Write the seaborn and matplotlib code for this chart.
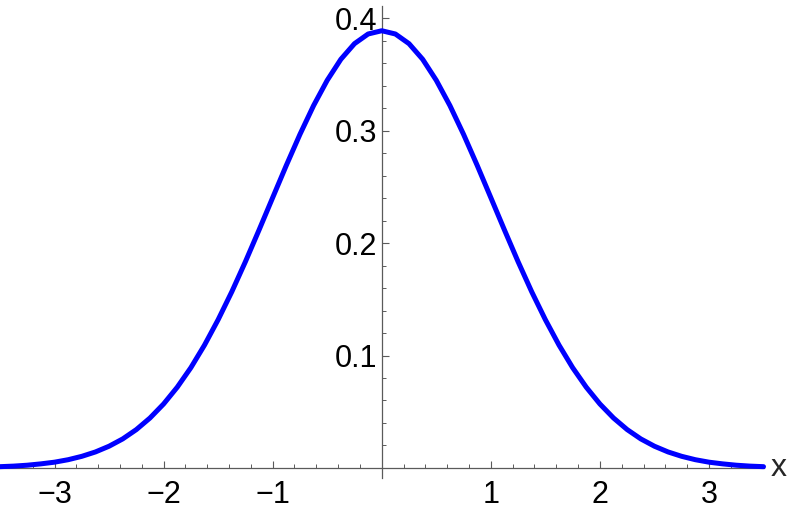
import numpy as np
import pandas as pd
import matplotlib
matplotlib.use("Agg")
import matplotlib.pyplot as plt
from matplotlib.ticker import FixedLocator, MultipleLocator
import seaborn as sns

# curve values (right half, the curve is symmetric)
x_half = [0.0, 0.125, 0.25, 0.375, 0.5, 0.625, 0.75, 0.875, 1.0, 1.125, 1.25,
          1.375, 1.5, 1.625, 1.75, 1.875, 2.0, 2.125, 2.25, 2.375, 2.5, 2.625,
          2.75, 2.875, 3.0, 3.125, 3.25, 3.375, 3.5]
y_half = [0.389, 0.3861, 0.3775, 0.3636, 0.3449, 0.3224, 0.2968, 0.2692, 0.2405,
          0.2117, 0.1835, 0.1567, 0.1319, 0.1093, 0.0892, 0.0718, 0.0569, 0.0444,
          0.0341, 0.0258, 0.0193, 0.0142, 0.0103, 0.0073, 0.0051, 0.0036, 0.0024,
          0.0016, 0.0011]

x_ticks = [-3, -2, -1, 1, 2, 3]
x_labels = ["\u22123", "\u22122", "\u22121", "1", "2", "3"]
y_ticks = [0.1, 0.2, 0.3, 0.4]
y_labels = ["0.1", "0.2", "0.3", "0.4"]

df = pd.DataFrame({
    "x": [-v for v in x_half[:0:-1]] + x_half,
    "y": y_half[:0:-1] + y_half,
})

sns.set_style("white")
plt.rcParams["font.family"] = ["Liberation Sans", "DejaVu Sans"]

fig = plt.figure(figsize=(7.93, 5.14), dpi=100)
ax = fig.add_axes([0.0, 0.070, 0.9628, 0.9183])

sns.lineplot(data=df, x="x", y="y", ax=ax, color="#0000ff", lw=3.6,
             sort=False, clip_on=False, solid_joinstyle="round")

ax.set_xlim(-3.5, 3.5)
ax.set_ylim(-0.009, 0.411)

axis_col = "#5a5a5a"
for side in ["top", "right"]:
    ax.spines[side].set_visible(False)
ax.spines["left"].set_position(("data", 0))
ax.spines["bottom"].set_position(("data", 0))
for side in ["left", "bottom"]:
    ax.spines[side].set_color(axis_col)
    ax.spines[side].set_linewidth(0.9)
    ax.spines[side].set_zorder(1)

ax.xaxis.set_major_locator(FixedLocator(x_ticks))
ax.set_xticklabels(x_labels)
ax.xaxis.set_minor_locator(MultipleLocator(0.2))
ax.yaxis.set_major_locator(FixedLocator(y_ticks))
ax.set_yticklabels(y_labels)
ax.yaxis.set_minor_locator(MultipleLocator(0.02))

ax.tick_params(axis="both", which="both", bottom=True, left=True,
               top=False, right=False)
ax.tick_params(axis="both", which="major", direction="in", length=4.8,
               width=0.8, color=axis_col, labelsize=22, labelcolor="black")
ax.tick_params(axis="both", which="minor", direction="in", length=2.6,
               width=0.7, color=axis_col)
ax.tick_params(axis="x", which="major", pad=9)
ax.tick_params(axis="y", which="major", pad=3)

ax.set_xlabel("")
ax.set_ylabel("")
ax.text(1.0 + 0.02, 0.009 / 0.42 + 0.0, "x", transform=ax.transAxes,
        ha="center", va="center", fontsize=23, clip_on=False)

fig.savefig("out.png", dpi=100)
